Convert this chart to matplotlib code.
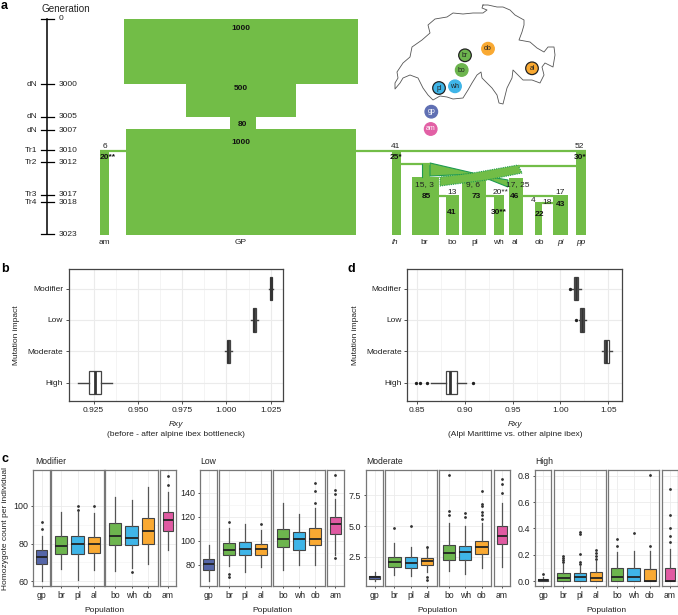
#!/usr/bin/env python3
import matplotlib.pyplot as plt
from matplotlib.patches import Circle, Polygon, Rectangle

plt.rcParams["font.family"] = ["Liberation Sans", "DejaVu Sans"]

W, H = 678, 615
GREEN = "#72BD47"
DARK_GREEN = "#1E9A50"

# panel a, timeline
gen_labels = ["0", "3000", "3005", "3007", "3010", "3012", "3017", "3018", "3023"]
gen_events = ["", "dN", "dN", "dN", "Tr1", "Tr2", "Tr3", "Tr4", ""]
gen_y = [19, 84, 117, 130, 150, 162, 195, 202, 234]

# panel a, blocks: left, right, top, bottom in pixels of the diagram
block_left = [124, 186, 230, 126, 100, 392.3, 576.3, 412.3, 421.7, 446, 462.3, 494, 509, 535.3, 553.3]
block_right = [358, 296, 256, 356, 109.3, 401, 586, 439.3, 430, 459.3, 486, 503.7, 523.3, 542.3, 567.7]
block_top = [19, 84, 117, 128.5, 150, 150, 150, 177, 163, 195, 177, 195, 178, 202, 195]
block_bottom = [84, 117, 130, 235, 235, 235, 235, 235, 177, 235, 235, 235, 235, 235, 235]

# panel a, founding lines: x0, x1, y
line_x0 = [100, 356, 401, 518, 439, 486, 523, 542]
line_x1 = [126, 586, 430, 577, 446, 494, 553, 553]
line_y = [150.5, 151, 163.5, 166, 196, 196, 196, 203]

block_names = ["am", "GP", "br", "bo", "pl", "wh", "al", "ob"]
block_name_x = [104, 241, 424, 452, 475, 498.5, 515, 539]
italic_names = ["ih", "pi", "pp"]
italic_name_x = [395, 560, 581]

size_text = ["1000", "500", "80", "1000", "20**", "25*", "30*", "85", "41", "73", "30**", "46", "22", "43"]
size_x = [240.5, 240.5, 242.5, 240.5, 107.5, 396, 580.5, 426, 452, 476, 498.5, 514.5, 539, 561]
size_y = [28, 88.5, 124, 143, 157.5, 157.5, 157.5, 196, 213, 196, 213, 196, 214, 205]

count_text = ["6", "41", "52", "15, 3", "13", "9, 6", "20**", "17, 25", "17", "4", "18"]
count_x = [104.5, 395.5, 579, 424.5, 452, 473.5, 501, 518, 560, 533.5, 547]
count_y = [146, 146, 146, 184.5, 193, 184.5, 193, 184.5, 193, 200, 202]

# swiss outline, in reference pixels
map_x = [483, 488, 497, 503, 510, 515, 524, 524, 522, 519, 530, 537, 544, 548, 554, 555, 553, 545, 542, 544,
         540, 532, 523, 518, 513, 512, 507, 503, 499, 497, 492, 482, 481, 477, 472, 468, 463, 453, 447, 440,
         433, 428, 423, 418, 410, 403, 400, 395, 395, 398, 397, 403, 410, 412, 422, 430, 428, 435, 447, 453,
         463, 473, 483, 487, 482, 483]
map_y = [5, 5, 7, 7, 10, 15, 20, 25, 32, 40, 42, 48, 52, 47, 47, 55, 67, 63, 67, 75,
         83, 80, 80, 75, 70, 78, 88, 104, 103, 95, 88, 78, 72, 75, 83, 90, 98, 99, 97, 96,
         100, 95, 88, 78, 75, 78, 83, 89, 83, 78, 72, 63, 57, 47, 40, 33, 25, 19, 17, 13,
         14, 13, 13, 10, 8, 5]

site_names = ["br", "ob", "bo", "al", "pl", "wh", "gp", "am"]
site_x = [465, 488, 461.7, 532, 439, 455, 431.3, 430.7]
site_y = [55.3, 48.7, 70, 68.3, 88, 86.3, 111.7, 129]
site_colors = ["#6DB54E", "#F9A932", "#6DB54E", "#F9A932", "#3FB5E8", "#3FB5E8", "#5F6FB3", "#E260A5"]
site_rings = [True, False, False, True, True, False, False, False]
site_text = ["#222222"] * 6 + ["white", "white"]

# panels b and d
impact = ["High", "Moderate", "Low", "Modifier"]

b_low = [0.9161, 0.9990, 1.0137, 1.0238]
b_q1 = [0.9226, 1.0003, 1.0152, 1.0245]
b_med = [0.9258, 1.0011, 1.0158, 1.0250]
b_q3 = [0.9292, 1.0018, 1.0165, 1.0255]
b_high = [0.9352, 1.0030, 1.0177, 1.0262]
b_fliers = [[], [], [], []]
b_ticks = [0.925, 0.95, 0.975, 1.0, 1.025]
b_tick_labels = ["0.925", "0.950", "0.975", "1.000", "1.025"]

d_low = [0.8650, 1.0434, 1.0197, 1.0117]
d_q1 = [0.8803, 1.0455, 1.0207, 1.0145]
d_med = [0.8845, 1.0479, 1.0225, 1.0162]
d_q3 = [0.8922, 1.0503, 1.0242, 1.0180]
d_high = [0.9012, 1.0535, 1.0263, 1.0210]
d_fliers = [[0.8493, 0.8535, 0.8608, 0.9089], [], [1.0162], [1.0103]]
d_ticks = [0.85, 0.90, 0.95, 1.00, 1.05]
d_tick_labels = ["0.85", "0.90", "0.95", "1.00", "1.05"]

# panel c: groups of populations, per facet
facet_pops = [["gp"], ["br", "pl", "al"], ["bo", "wh", "ob"], ["am"]]
pop_colors = {"gp": "#5566A8", "br": "#6DB54E", "pl": "#3FB5E8", "al": "#F9A932", "bo": "#6DB54E",
              "wh": "#3FB5E8", "ob": "#F9A932", "am": "#E05AA2"}

mod_low = [59.8, 66.4, 60.7, 66.0, 65.5, 67.0, 69.2, 76.4]
mod_q1 = [69.1, 74.2, 74.4, 74.9, 79.4, 79.4, 79.6, 86.5]
mod_med = [73.0, 78.5, 79.6, 80.0, 84.2, 83.1, 86.7, 92.5]
mod_q3 = [76.4, 83.8, 83.8, 83.6, 90.8, 89.3, 93.4, 96.6]
mod_high = [84.0, 96.6, 97.0, 96.3, 104.6, 103.2, 110.3, 107.3]
mod_fliers = [[87.7, 91.6], [], [97.9, 99.8], [99.8], [], [64.8], [], [111.0, 116.0]]

low_low = [66.0, 79.0, 74.0, 78.0, 75.7, 79.4, 80.0, 88.0]
low_q1 = [75.7, 87.7, 87.7, 87.7, 94.4, 92.7, 96.7, 105.9]
low_med = [80.5, 92.7, 93.0, 93.3, 101.1, 101.4, 101.7, 113.9]
low_q3 = [84.4, 97.8, 98.9, 97.5, 109.5, 107.5, 110.3, 119.5]
low_high = [96.4, 110.9, 114.0, 108.9, 131.5, 122.6, 127.3, 135.0]
low_fliers = [[], [115.9, 72.0, 69.6], [], [114.2], [], [], [132.0, 142.0, 148.5], [138.8, 142.7, 154.7, 86.0]]

mode_low = [0.49, 1.03, 0.92, 1.28, 1.36, 1.06, 1.60, 1.68]
mode_q1 = [0.71, 1.68, 1.55, 1.85, 2.20, 2.26, 2.72, 3.56]
mode_med = [0.84, 2.04, 1.96, 2.12, 2.83, 2.85, 3.26, 4.18]
mode_q3 = [0.95, 2.47, 2.45, 2.36, 3.42, 3.37, 3.75, 5.00]
mode_high = [1.28, 3.59, 3.26, 3.20, 5.27, 4.97, 5.22, 6.90]
mode_fliers = [[], [4.81], [5.03], [3.26, 0.87, 0.60], [5.90, 6.25, 9.16], [5.76, 6.09],
               [5.54, 5.90, 6.14, 6.63, 6.79, 7.88], [7.72, 8.42, 8.86]]

high_low = [0.0, 0.0, 0.0, 0.0, 0.0, 0.0, 0.0, 0.0]
high_q1 = [0.0, 0.0, 0.003, 0.0, 0.0, 0.0, 0.0, 0.0]
high_med = [0.010, 0.025, 0.033, 0.023, 0.028, 0.033, 0.0, 0.0]
high_q3 = [0.018, 0.058, 0.058, 0.066, 0.100, 0.097, 0.089, 0.097]
high_high = [0.033, 0.130, 0.114, 0.150, 0.224, 0.230, 0.226, 0.246]
high_fliers = [[0.053], [0.145, 0.16, 0.175, 0.19], [0.13, 0.147, 0.206, 0.355, 0.373], [0.168, 0.19, 0.21, 0.236],
               [0.27, 0.32], [0.363], [0.267, 0.808], [0.297, 0.345, 0.40, 0.50, 0.70]]


def px_axes(fig, left, right, top, bottom):
    return fig.add_axes([left / W, 1 - bottom / H, (right - left) / W, (bottom - top) / H])


def make_stats(low, q1, med, q3, high, fliers):
    return [dict(whislo=a, q1=b, med=c, q3=d, whishi=e, fliers=f)
            for a, b, c, d, e, f in zip(low, q1, med, q3, high, fliers)]


def style_frame(ax, color="#555555"):
    for spine in ax.spines.values():
        spine.set_color(color)
        spine.set_linewidth(0.9)


def draw_panel_a(ax):
    # timeline
    ax.plot([47.3, 47.3], [gen_y[0], gen_y[-1]], color="black", lw=1.1)
    for label, event, y in zip(gen_labels, gen_events, gen_y):
        ax.plot([40.7, 54], [y, y], color="black", lw=0.9)
        ax.text(58.5, y, label, fontsize=6, va="center", color="#222222")
        ax.text(37, y, event, fontsize=6, va="center", ha="right", color="#222222")
    ax.text(66, 9, "Generation", fontsize=7.1, ha="center", va="center", color="#222222")

    for left, right, top, bottom in zip(block_left, block_right, block_top, block_bottom):
        ax.add_patch(Rectangle((left, top), right - left, bottom - top, color=GREEN, lw=0))
    for x0, x1, y in zip(line_x0, line_x1, line_y):
        ax.plot([x0, x1], [y, y], color=GREEN, lw=1.6, solid_capstyle="butt")

    # migration web between the reintroduced colonies
    ax.add_patch(Polygon([(430, 163), (473, 173), (508, 187), (508, 180), (473, 174), (430, 176)],
                         facecolor=GREEN, edgecolor=DARK_GREEN, lw=0.8))
    ax.add_patch(Polygon([(518, 165), (522, 173), (487, 180), (440, 186), (440, 177), (473, 173)],
                         facecolor=GREEN, edgecolor=DARK_GREEN, lw=0.8, ls=(0, (1, 1))))
    ax.plot([421.7, 421.7], [164, 177], color=DARK_GREEN, lw=0.8)

    for name, x in zip(block_names, block_name_x):
        ax.text(x, 242, name, fontsize=6, ha="center", va="center", color="#222222")
    for name, x in zip(italic_names, italic_name_x):
        ax.text(x, 242, name, fontsize=6, ha="center", va="center", style="italic", color="#222222")
    for text, x, y in zip(size_text, size_x, size_y):
        ax.text(x, y, text, fontsize=6, ha="center", va="center", weight="bold", color="#111111")
    for text, x, y in zip(count_text, count_x, count_y):
        ax.text(x, y, text, fontsize=6, ha="center", va="center", color="#222222")

    # map
    ax.plot(map_x, map_y, color="#555555", lw=0.6)
    for name, x, y, col, ring, tcol in zip(site_names, site_x, site_y, site_colors, site_rings, site_text):
        ax.add_patch(Circle((x, y), 6.3, facecolor=col, edgecolor="#222222" if ring else col, lw=0.9))
        ax.text(x, y, name, fontsize=5, ha="center", va="center", color=tcol)


def draw_rxy(fig, left, right, stats, xlim, ticks, tick_labels):
    ax = px_axes(fig, left, right, 269.3, 401.3)
    ax.bxp(stats, positions=[1, 2, 3, 4], widths=0.75, vert=False, patch_artist=True, showcaps=False,
           boxprops=dict(facecolor="white", edgecolor="#444444", lw=0.9),
           medianprops=dict(color="#333333", lw=2.0, solid_capstyle="butt"),
           whiskerprops=dict(color="#444444", lw=1.0),
           flierprops=dict(marker="o", ms=1.4, mfc="#222222", mec="#222222"))
    ax.set_xlim(*xlim)
    ax.set_ylim(0.4, 4.62)
    ax.set_xticks(ticks)
    ax.set_xticklabels(tick_labels, fontsize=6, color="#222222")
    ax.set_yticks([1, 2, 3, 4])
    ax.set_yticklabels(impact, fontsize=6, color="#222222")
    minor = [(a + b) / 2 for a, b in zip(ticks, ticks[1:])]
    ax.set_xticks(minor, minor=True)
    ax.tick_params(axis="x", which="minor", length=0)
    ax.tick_params(axis="both", which="major", length=2, width=0.6, pad=2, color="#333333")
    ax.grid(True, which="major", color="#EBEBEB", lw=0.8)
    ax.grid(True, which="minor", axis="x", color="#F0F0F0", lw=0.5)
    ax.set_axisbelow(True)
    style_frame(ax, "#444444")
    return ax


def draw_facets(fig, lefts, rights, stats, ylim, ticks, tick_labels):
    i = 0
    for k, group in enumerate(facet_pops):
        ax = px_axes(fig, lefts[k], rights[k], 470.3, 586.3)
        part = stats[i:i + len(group)]
        i += len(group)
        positions = list(range(1, len(group) + 1))
        result = ax.bxp(part, positions=positions, widths=0.75, patch_artist=True, showcaps=False,
                        boxprops=dict(edgecolor="#444444", lw=0.8),
                        medianprops=dict(color="#222222", lw=1.3, solid_capstyle="butt"),
                        whiskerprops=dict(color="#555555", lw=0.9),
                        flierprops=dict(marker="o", ms=1.0, mfc="#333333", mec="#333333"))
        for box, pop in zip(result["boxes"], group):
            box.set_facecolor(pop_colors[pop])
        ax.set_xlim(0.4, len(group) + 0.6)
        ax.set_ylim(*ylim)
        ax.set_xticks(positions)
        ax.set_xticklabels(group, fontsize=6.2, color="#222222")
        ax.set_yticks(ticks)
        minor = [(a + b) / 2 for a, b in zip(ticks, ticks[1:])]
        ax.set_yticks(minor, minor=True)
        ax.tick_params(axis="y", which="minor", length=0)
        ax.tick_params(axis="both", which="major", length=1.5, width=0.6, pad=2, color="#333333")
        if k == 0:
            ax.set_yticklabels(tick_labels, fontsize=6.4, color="#222222")
        else:
            ax.tick_params(axis="y", which="major", length=0, labelleft=False)
        ax.grid(True, which="major", color="#EBEBEB", lw=0.6)
        ax.grid(True, which="minor", axis="y", color="#F2F2F2", lw=0.4)
        ax.set_axisbelow(True)
        style_frame(ax, "#777777")


fig = plt.figure(figsize=(W / 100, H / 100), dpi=100)
page = fig.add_axes([0, 0, 1, 1])
page.set_xlim(0, W)
page.set_ylim(H, 0)
page.axis("off")

draw_panel_a(page)

draw_rxy(fig, 68.7, 282.7, make_stats(b_low, b_q1, b_med, b_q3, b_high, b_fliers), (0.9109, 1.0318), b_ticks, b_tick_labels)
draw_rxy(fig, 407.3, 621.7, make_stats(d_low, d_q1, d_med, d_q3, d_high, d_fliers), (0.8399, 1.064), d_ticks, d_tick_labels)

for x, sub in [(175.5, "(before - after alpine ibex bottleneck)"), (515, "(Alpi Marittime vs. other alpine ibex)")]:
    page.text(x, 424, "Rxy", fontsize=6, style="italic", ha="center", va="center", color="#222222")
    page.text(x, 434, sub, fontsize=6, ha="center", va="center", color="#222222")
for x in [16, 355.5]:
    page.text(x, 335, "Mutation impact", fontsize=6, rotation=90, ha="center", va="center", color="#222222")

draw_facets(fig, [33.3, 51.3, 105.3, 159.7], [49.7, 103.7, 157.7, 175.7],
            make_stats(mod_low, mod_q1, mod_med, mod_q3, mod_high, mod_fliers),
            (57.2, 119), [60, 80, 100], ["60", "80", "100"])
draw_facets(fig, [200.3, 219.3, 273.3, 327], [216.7, 271, 325, 343.7],
            make_stats(low_low, low_q1, low_med, low_q3, low_high, low_fliers),
            (61.9, 159), [80, 100, 120, 140], ["80", "100", "120", "140"])
draw_facets(fig, [366.3, 384.7, 439.3, 493.7], [382.7, 436.7, 491.3, 509.7],
            make_stats(mode_low, mode_q1, mode_med, mode_q3, mode_high, mode_fliers),
            (0.09, 9.54), [2.5, 5.0, 7.5], ["2.5", "5.0", "7.5"])
draw_facets(fig, [535.3, 553.7, 607.7, 661.7], [551.3, 605.7, 659.3, 677.5],
            make_stats(high_low, high_q1, high_med, high_q3, high_high, high_fliers),
            (-0.04, 0.843), [0.0, 0.2, 0.4, 0.6, 0.8], ["0.0", "0.2", "0.4", "0.6", "0.8"])

for x, title in zip([35, 200, 366, 535], ["Modifier", "Low", "Moderate", "High"]):
    page.text(x, 462, title, fontsize=6.2, va="center", color="#222222")
for x in [104.7, 272, 437.7, 606.7]:
    page.text(x, 610, "Population", fontsize=6, ha="center", va="center", color="#222222")
page.text(5.5, 528, "Homozygote count per individual", fontsize=6, rotation=90, ha="center", va="center", color="#222222")

for x, y, letter in [(4.5, 6, "a"), (4.5, 269, "b"), (351, 269, "d"), (4.5, 459, "c")]:
    page.text(x, y, letter, fontsize=9, weight="bold", ha="center", va="center")

fig.savefig("out.png", dpi=100)
plt.close(fig)
